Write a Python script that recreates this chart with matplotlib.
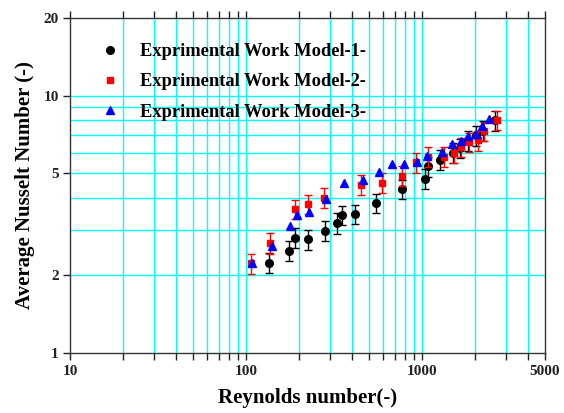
import matplotlib
matplotlib.use("Agg")
import matplotlib.pyplot as plt
from matplotlib.lines import Line2D
from matplotlib.ticker import FixedLocator, FixedFormatter, NullFormatter

# DATA
re_1 = [136, 176, 191, 224, 281, 328, 354, 416, 546, 769, 1040, 1091, 1268, 1500, 1650, 1830, 2020, 2240, 2620]
nu_1 = [2.24, 2.49, 2.80, 2.76, 2.98, 3.19, 3.43, 3.46, 3.83, 4.33, 4.74, 5.30, 5.62, 6.0, 6.25, 6.7, 7.0, 7.3, 8.0]
err_1 = [0.2, 0.22, 0.25, 0.25, 0.27, 0.29, 0.3, 0.3, 0.33, 0.38, 0.42, 0.47, 0.5, 0.53, 0.55, 0.6, 0.62, 0.65, 0.7]

re_2 = [107, 138, 191, 225, 278, 449, 595, 769, 930, 1088, 1345, 1517, 1663, 1860, 2090, 2270, 2660]
nu_2 = [2.23, 2.67, 3.62, 3.78, 4.01, 4.49, 4.59, 4.88, 5.50, 5.79, 5.79, 5.97, 6.3, 6.6, 6.7, 7.27, 8.04]
err_2 = [0.2, 0.24, 0.32, 0.33, 0.35, 0.4, 0.4, 0.43, 0.48, 0.5, 0.5, 0.52, 0.55, 0.58, 0.6, 0.64, 0.7]

re_3 = [109, 140, 179, 195, 227, 284, 361, 462, 573, 677, 795, 935, 1071, 1300, 1483, 1663, 1833, 2025, 2210, 2403]
nu_3 = [2.23, 2.60, 3.11, 3.42, 3.52, 3.95, 4.59, 4.70, 5.05, 5.41, 5.42, 5.54, 5.84, 6.06, 6.49, 6.64, 6.97, 7.08, 7.62, 8.09]

labels = ["Exprimental Work Model-1-", "Exprimental Work Model-2-", "Exprimental Work Model-3-"]
x_ticks = [10, 100, 1000, 5000]
x_grid = [20, 30, 40, 50, 60, 70, 80, 90, 100, 200, 300, 400, 500, 600, 700, 800, 900, 1000, 2000, 3000, 4000]
y_ticks = [1, 2, 5, 10, 20]
y_grid = [2, 3, 4, 5, 6, 7, 8, 9, 10]

SERIF = ["Liberation Serif", "DejaVu Serif"]
plt.rcParams['font.family'] = SERIF

fig = plt.figure(figsize=(5.64, 4.13), dpi=100)
ax = fig.add_axes([0.124, 0.146, 0.842, 0.810])
ax.set_xscale("log")
ax.set_yscale("log")
ax.set_xlim(10, 5000)
ax.set_ylim(1, 20)

# cyan grid
for gx in x_grid:
    ax.axvline(gx, color="#00FFFF", lw=1.0, zorder=0)
for gy in y_grid:
    ax.axhline(gy, color="#00FFFF", lw=1.0, zorder=0)

ax.errorbar(re_1, nu_1, yerr=err_1, fmt="o", color="black", ms=5.5,
            ecolor="black", elinewidth=1, capsize=3, capthick=1, zorder=3)
ax.errorbar(re_2, nu_2, yerr=err_2, fmt="s", color="red", ms=5,
            ecolor="red", elinewidth=1, capsize=3, capthick=1, zorder=4)
ax.plot(re_3, nu_3, "^", color="blue", ms=5.5, ls="none", zorder=5)

# ticks
ax.xaxis.set_major_locator(FixedLocator(x_ticks))
ax.xaxis.set_major_formatter(FixedFormatter([str(v) for v in x_ticks]))
ax.xaxis.set_minor_locator(FixedLocator(x_grid))
ax.xaxis.set_minor_formatter(NullFormatter())
ax.yaxis.set_major_locator(FixedLocator(y_ticks))
ax.yaxis.set_major_formatter(FixedFormatter([str(v) for v in y_ticks]))
ax.yaxis.set_minor_locator(FixedLocator([]))
ax.tick_params(axis="x", which="both", direction="out", length=5, width=1,
               top=True, bottom=True, labelsize=11, colors="#222222", pad=4)
ax.tick_params(axis="y", which="both", direction="out", length=5, width=1,
               left=True, right=False, labelsize=11, colors="#222222", pad=3)
for lab in ax.get_xticklabels() + ax.get_yticklabels():
    lab.set_fontweight("bold")
for sp in ax.spines.values():
    sp.set_color("#333333")
    sp.set_linewidth(1)

ax.set_xlabel("Reynolds number(-)", fontsize=15, fontweight="bold", labelpad=7)
ax.set_ylabel("Average Nusselt Number (-)", fontsize=15, fontweight="bold", labelpad=6)

handles = [
    Line2D([], [], marker="o", color="black", ls="none", ms=5.5),
    Line2D([], [], marker="s", color="red", ls="none", ms=5),
    Line2D([], [], marker="^", color="blue", ls="none", ms=5.5),
]
ax.legend(handles, labels, loc="upper left", bbox_to_anchor=(0.03, 0.975),
          frameon=False, handlelength=1.0, handletextpad=1.1, labelspacing=0.72,
          prop={"family": SERIF, "weight": "bold", "size": 13.3})

fig.savefig("out.png", dpi=100)
